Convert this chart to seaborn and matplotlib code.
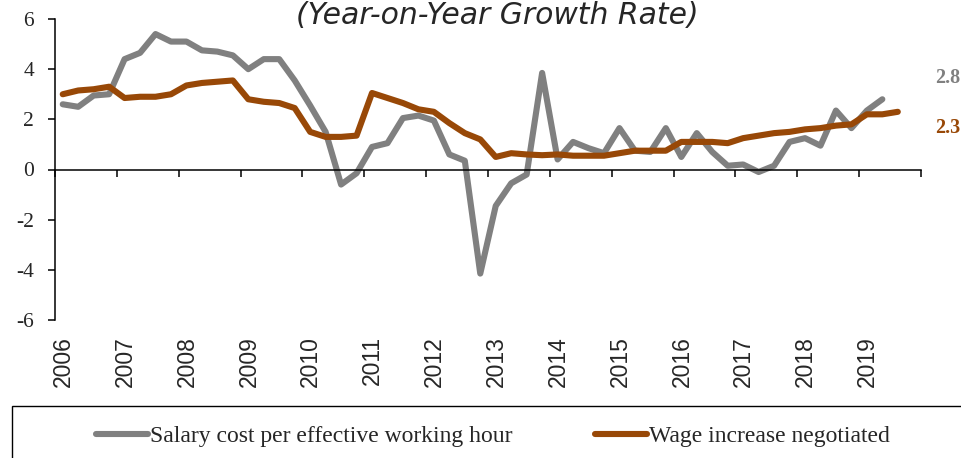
import numpy as np
import pandas as pd
import matplotlib
matplotlib.use("Agg")
import matplotlib.pyplot as plt
import seaborn as sns
from matplotlib.lines import Line2D
from matplotlib.patches import Rectangle
from matplotlib.transforms import blended_transform_factory

# Quarterly year-on-year growth rates, 2006Q1 onwards
years = list(range(2006, 2020))
year_labels = [str(y) for y in years]
series_names = ["Salary cost per effective working hour", "Wage increase negotiated"]

salary_cost = [2.6, 2.5, 2.95, 3.0, 4.4, 4.65, 5.4, 5.1, 5.1, 4.75, 4.7, 4.55,
               4.0, 4.4, 4.4, 3.55, 2.55, 1.5, -0.6, -0.15, 0.9, 1.05, 2.05, 2.15,
               1.95, 0.6, 0.35, -4.15, -1.45, -0.55, -0.2, 3.85, 0.4, 1.1, 0.85, 0.65,
               1.65, 0.75, 0.7, 1.65, 0.5, 1.45, 0.7, 0.15, 0.2, -0.1, 0.15, 1.1,
               1.25, 0.95, 2.35, 1.65, 2.35, 2.8]

wage_increase = [3.0, 3.15, 3.2, 3.3, 2.85, 2.9, 2.9, 3.0, 3.35, 3.45, 3.5, 3.55,
                 2.8, 2.7, 2.65, 2.45, 1.5, 1.3, 1.3, 1.35, 3.05, 2.85, 2.65, 2.4,
                 2.3, 1.85, 1.45, 1.2, 0.5, 0.65, 0.6, 0.57, 0.6, 0.55, 0.55, 0.55,
                 0.65, 0.75, 0.75, 0.75, 1.1, 1.1, 1.1, 1.05, 1.25, 1.35, 1.45, 1.5,
                 1.6, 1.65, 1.75, 1.8, 2.2, 2.2, 2.3]

end_labels = ["2.8", "2.3"]
title = "(Year-on-Year Growth Rate)"

GRAY = "#808080"
BROWN = "#984807"
palette = {series_names[0]: GRAY, series_names[1]: BROWN}


def quarterly_frame(values, name, first_year=2006):
    t = first_year + (np.arange(len(values)) + 0.5) / 4.0
    return pd.DataFrame({"t": t, "value": values, "series": name})


df = pd.concat([quarterly_frame(salary_cost, series_names[0]),
                quarterly_frame(wage_increase, series_names[1])],
               ignore_index=True)

sns.set_style("white")
plt.rcParams["font.family"] = ["Liberation Serif", "DejaVu Serif"]
plt.rcParams["axes.unicode_minus"] = False

W, H = 961, 458
fig = plt.figure(figsize=(W / 100, H / 100), dpi=100)
ax = fig.add_axes([55 / W, 1 - 320 / H, (921 - 55) / W, (320 - 19) / H])

sns.lineplot(data=df, x="t", y="value", hue="series", hue_order=series_names,
             palette=palette, linewidth=4.4, sort=False, legend=False, ax=ax,
             solid_joinstyle="round", solid_capstyle="round", clip_on=False)

ax.set_xlim(2006, 2020)
ax.set_ylim(-6, 6)
ax.set_yticks(np.arange(-6, 7, 2))
ax.set_yticklabels([str(v) for v in range(-6, 7, 2)])
ax.set_xticks(range(2006, 2021))
ax.set_xticklabels([])
ax.set_xlabel("")
ax.set_ylabel("")

for side in ("top", "right"):
    ax.spines[side].set_visible(False)
ax.spines["bottom"].set_position(("data", 0))
for side in ("left", "bottom"):
    ax.spines[side].set_color("black")
    ax.spines[side].set_linewidth(1.1)

ax.tick_params(axis="y", direction="out", length=5, width=1.1, color="black",
               labelsize=15.5, pad=10, left=True)
ax.tick_params(axis="x", direction="out", length=5, width=1.1, color="black",
               bottom=True)

# Year labels sit below the plotting area, rotated
trans = blended_transform_factory(ax.transData, fig.transFigure)
for y, lab in zip(years, year_labels):
    ax.text(y + 0.135, 1 - 336 / H, lab, transform=trans, rotation=90,
            ha="center", va="top", fontsize=16.5,
            family=["Liberation Sans", "DejaVu Sans"])

# Latest values at the right edge
fig.text(935 / W, 1 - 78 / H, end_labels[0], color=GRAY, fontsize=14.5,
         fontweight="bold", ha="left", va="center")
fig.text(935 / W, 1 - 128 / H, end_labels[1], color=BROWN, fontsize=14.5,
         fontweight="bold", ha="left", va="center")

fig.text(497.5 / W, 1 - 24 / H, title, ha="center", va="baseline",
         fontsize=21.5, style="italic", family=["DejaVu Sans"])

# Legend box along the bottom
fig.patches.append(Rectangle((12 / W, -0.2), 1.0, 0.2 + (458 - 406) / H,
                             transform=fig.transFigure, fill=False,
                             edgecolor="black", linewidth=1.0))
handles = [Line2D([], [], color=palette[n], linewidth=4.4, solid_capstyle="round")
           for n in series_names]
fig.legend(handles, series_names, loc="center", bbox_to_anchor=(493 / W, 1 - 436 / H),
           ncol=2, frameon=False, fontsize=17, handlelength=2.2,
           handletextpad=0.1, columnspacing=3.5, borderpad=0, borderaxespad=0)

fig.savefig("out.png", dpi=100)
